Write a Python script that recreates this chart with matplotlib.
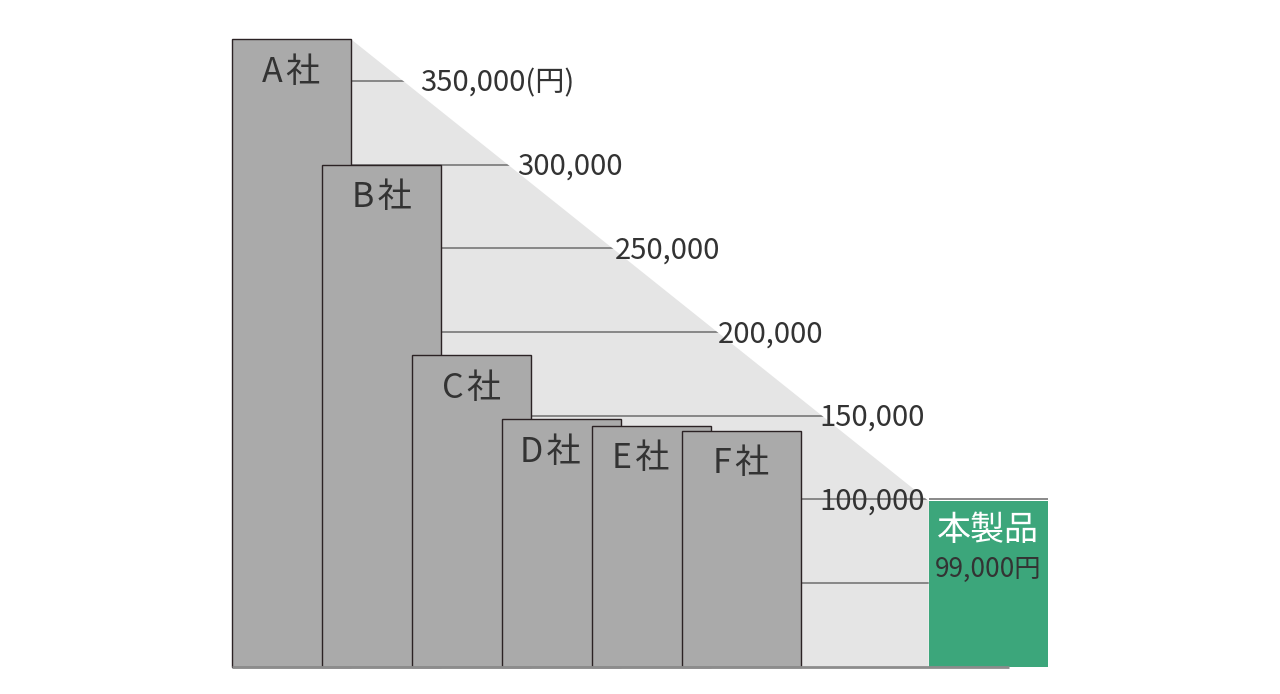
import matplotlib
matplotlib.use("Agg")
import matplotlib.pyplot as plt
from matplotlib.patches import Polygon

plt.rcParams['font.family'] = ['Noto Sans CJK JP', 'DejaVu Sans']

# data
companies = ["A社", "B社", "C社", "D社", "E社", "F社"]
prices = [375000, 300000, 186000, 148000, 144000, 141000]
product_name = "本製品"
product_price = 99000
product_label = "99,000円"
levels = [50000, 100000, 150000, 200000, 250000, 300000, 350000]
level_labels = ["", "100,000", "150,000", "200,000", "250,000", "300,000", "350,000(円)"]

# layout
bar_w = 1.32
xs = list(range(len(companies)))
product_x = 7.74
name_shift = [0, 0, 0, -0.13, -0.12, 0]
level_label_x = [None, 5.87, 5.87, 4.74, 3.59, 2.51, 1.43]
txt = "#333333"

fig = plt.figure(figsize=(12.8, 6.94), dpi=100)
ax = fig.add_axes([0, 0, 1, 1])
ax.set_xlim(-3.239, 10.983)
ax.set_ylim(-16300, 398400)
ax.axis("off")

# gray triangle behind the bars
x0 = xs[0] + bar_w / 2
x1 = product_x - bar_w / 2
tri = Polygon([(x0, prices[0]), (x1, product_price), (x1, 0), (x0, 0)],
              closed=True, facecolor="#e5e5e5", edgecolor="none", zorder=1)
ax.add_patch(tri)

lines = ax.hlines(levels, x0, x1, colors="#808080", linewidth=1.3, zorder=2)
lines.set_clip_path(tri)

for i, (x, p) in enumerate(zip(xs, prices)):
    ax.bar(x, p, width=bar_w, color="#aaaaaa", edgecolor="#2b2224",
           linewidth=1.0, zorder=3 + i)
    name = companies[i][0] + "\u200a" + companies[i][1:]
    ax.text(x + name_shift[i], p - 25500, name, ha="center", va="baseline",
            fontsize=24.5, color=txt, zorder=20)

ax.bar(product_x, product_price, width=bar_w, color="#3ca67b", edgecolor="none", zorder=10)
ax.hlines(levels[1], x1, product_x + bar_w / 2, colors="#808080", linewidth=1.3, zorder=11)
ax.text(product_x, product_price - 23500, product_name, ha="center", va="baseline",
        fontsize=24.5, color="white", zorder=20)
ax.text(product_x, product_price - 45500, product_label, ha="center", va="baseline",
        fontsize=19, color=txt, zorder=20)

# baseline
ax.hlines(0, xs[0] - bar_w / 2, 7.97, colors="#8c8c8c", linewidth=2, zorder=15)

for lv, lab, lx in zip(levels, level_labels, level_label_x):
    if lab:
        ax.text(lx, lv - 6200, lab, ha="left", va="baseline",
                fontsize=21, color=txt, zorder=20)

fig.savefig("out.png", dpi=100)
